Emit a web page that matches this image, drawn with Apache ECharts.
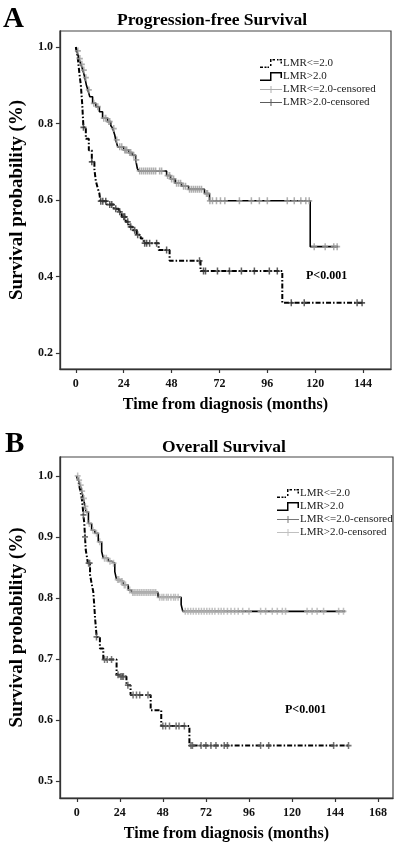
<!DOCTYPE html>
<html>
<head>
<meta charset="utf-8">
<script src="https://cdn.jsdelivr.net/npm/echarts@6/dist/echarts.min.js"></script>
<style>
html,body{margin:0;padding:0;background:#fff;}
#c{width:398px;height:847px;}
</style>
</head>
<body>
<div id="c"></div>
<script>
// ---------- Panel A: Progression-free survival ----------
const pfsXTicks = [0, 24, 48, 72, 96, 120, 144];
const pfsYTicks = [0.2, 0.4, 0.6, 0.8, 1.0];

const pfsLowTime = [0, 1, 1.8, 2.5, 3.2, 3.8, 5, 6.5, 8, 9.3, 10, 11, 11.8, 12.3, 15.5, 19, 21.5, 23, 25, 26.5, 28.5, 30.5, 32.5, 34, 41.5, 47, 62.5, 103.5, 144];
const pfsLowSurv = [1.0, 0.97, 0.93, 0.90, 0.85, 0.79, 0.76, 0.73, 0.70, 0.68, 0.65, 0.63, 0.617, 0.597, 0.588, 0.577, 0.569, 0.556, 0.543, 0.530, 0.521, 0.509, 0.499, 0.487, 0.469, 0.441, 0.414, 0.331, 0.331];

const pfsHighTime = [0, 0.5, 1.5, 2.5, 3.5, 4.5, 5.3, 6, 7, 8.4, 10, 11.8, 13.4, 15.9, 17.5, 18.5, 19.5, 20, 21, 24, 26.5, 28.3, 30, 30.8, 31.5, 45.5, 47.5, 49.8, 53, 56.5, 64.5, 67, 117.5, 131.5];
const pfsHighSurv = [1.0, 0.99, 0.97, 0.955, 0.94, 0.92, 0.90, 0.888, 0.87, 0.853, 0.844, 0.831, 0.814, 0.805, 0.795, 0.787, 0.77, 0.757, 0.739, 0.731, 0.724, 0.717, 0.705, 0.683, 0.676, 0.664, 0.655, 0.644, 0.636, 0.628, 0.617, 0.598, 0.478, 0.478];

const pfsLowCensTime = [3.8, 8, 12.5, 13.5, 15, 17, 18, 20, 22, 24, 24.5, 26, 27.5, 29.5, 31, 34.5, 35.5, 37, 40.5, 45.5, 62, 64, 65, 71, 77, 83, 89.5, 97, 101, 108, 114.5, 141, 143.5];
const pfsLowCensSurv = [0.79, 0.70, 0.597, 0.597, 0.597, 0.588, 0.588, 0.577, 0.569, 0.556, 0.556, 0.543, 0.530, 0.521, 0.509, 0.487, 0.487, 0.487, 0.487, 0.469, 0.441, 0.414, 0.414, 0.414, 0.414, 0.414, 0.414, 0.414, 0.414, 0.331, 0.331, 0.331, 0.331];

const pfsHighCensTime = [1, 2, 3, 4, 5, 6.5, 9, 11, 14, 15, 16.5, 17, 19, 20.5, 22, 23, 24.5, 25, 25.5, 27, 27.5, 29, 30.3, 32, 33, 34, 35, 36, 37, 38, 39, 40, 42, 43, 46, 47, 48, 49, 50.5, 51.5, 52.5, 54, 55, 57, 58, 59, 60, 61, 62, 63, 65.5, 66, 67.2, 68.5, 70.5, 72.5, 74.7, 82, 88, 92, 96, 106, 109.5, 112.8, 115.3, 117, 119.5, 125, 129.3, 131];
const pfsHighCensSurv = [0.99, 0.97, 0.955, 0.94, 0.92, 0.888, 0.853, 0.844, 0.814, 0.814, 0.805, 0.805, 0.787, 0.757, 0.739, 0.739, 0.731, 0.731, 0.731, 0.724, 0.724, 0.717, 0.705, 0.676, 0.676, 0.676, 0.676, 0.676, 0.676, 0.676, 0.676, 0.676, 0.676, 0.676, 0.664, 0.664, 0.655, 0.655, 0.644, 0.644, 0.644, 0.636, 0.636, 0.628, 0.628, 0.628, 0.628, 0.628, 0.628, 0.628, 0.617, 0.617, 0.598, 0.598, 0.598, 0.598, 0.598, 0.598, 0.598, 0.598, 0.598, 0.598, 0.598, 0.598, 0.598, 0.598, 0.478, 0.478, 0.478, 0.478];

// ---------- Panel B: Overall survival ----------
const osXTicks = [0, 24, 48, 72, 96, 120, 144, 168];
const osYTicks = [0.5, 0.6, 0.7, 0.8, 0.9, 1.0];

const osLowTime = [0, 1, 2, 2.8, 3.3, 3.7, 4.2, 4.6, 5, 5.5, 6.2, 7.4, 8.2, 9.2, 9.7, 10.2, 11.1, 12.9, 14.8, 22.2, 24, 27.7, 30, 41.2, 47.1, 62.8, 151.5];
const osLowSurv = [1.0, 0.99, 0.975, 0.963, 0.95, 0.936, 0.922, 0.90, 0.879, 0.870, 0.857, 0.838, 0.825, 0.810, 0.79, 0.767, 0.736, 0.717, 0.699, 0.674, 0.671, 0.657, 0.641, 0.616, 0.590, 0.558, 0.558];

const osHighTime = [0, 1, 1.8, 2.8, 3.7, 4.6, 5.2, 6.5, 8.3, 10.1, 12, 13.9, 14.8, 17.6, 19.4, 21.2, 22.2, 24, 25.9, 28.7, 30.5, 45.3, 58.2, 59.1, 149.7];
const osHighSurv = [1.0, 0.993, 0.985, 0.975, 0.963, 0.95, 0.941, 0.922, 0.911, 0.906, 0.892, 0.876, 0.865, 0.860, 0.857, 0.843, 0.830, 0.827, 0.821, 0.813, 0.809, 0.801, 0.789, 0.778, 0.778];

const osLowCensTime = [3.7, 4.6, 6.6, 7.2, 11, 15.5, 17, 19.4, 23, 24.6, 25.3, 26, 28.5, 31.4, 33.3, 35.1, 39.7, 48, 49.5, 51.7, 55.4, 57, 60, 63.7, 64.5, 69.3, 72, 74.8, 77.6, 82.2, 84, 102.5, 107, 143.2, 151.5];
const osLowCensSurv = [0.936, 0.90, 0.857, 0.857, 0.736, 0.699, 0.699, 0.699, 0.674, 0.671, 0.671, 0.671, 0.657, 0.641, 0.641, 0.641, 0.641, 0.590, 0.590, 0.590, 0.590, 0.590, 0.590, 0.558, 0.558, 0.558, 0.558, 0.558, 0.558, 0.558, 0.558, 0.558, 0.558, 0.558, 0.558];

const osHighCensTime = [0.5, 1.3, 2.2, 3, 4, 4.8, 5.6, 7, 9, 11, 12.8, 15.5, 16.5, 18.5, 20.5, 22.8, 23.4, 24.8, 25.3, 26.5, 27.2, 29.5, 31.2, 32, 33, 34, 35, 36, 37, 38, 39, 40, 41, 42, 43, 44, 46.2, 47.5, 48.5, 50, 51, 52.5, 54, 55, 56.5, 60.5, 62, 63.5, 65, 66.5, 68, 69.5, 71, 72.5, 74, 75.5, 77, 79, 80.5, 82, 84, 86, 88, 90, 92.5, 96, 102.5, 105.3, 109, 111.8, 114.6, 116.4, 128.4, 131.2, 134, 137.6, 146, 148.7];
const osHighCensSurv = [1.0, 0.993, 0.985, 0.975, 0.963, 0.95, 0.941, 0.922, 0.911, 0.906, 0.892, 0.865, 0.865, 0.860, 0.857, 0.830, 0.830, 0.827, 0.827, 0.821, 0.821, 0.813, 0.809, 0.809, 0.809, 0.809, 0.809, 0.809, 0.809, 0.809, 0.809, 0.809, 0.809, 0.809, 0.809, 0.809, 0.801, 0.801, 0.801, 0.801, 0.801, 0.801, 0.801, 0.801, 0.801, 0.778, 0.778, 0.778, 0.778, 0.778, 0.778, 0.778, 0.778, 0.778, 0.778, 0.778, 0.778, 0.778, 0.778, 0.778, 0.778, 0.778, 0.778, 0.778, 0.778, 0.778, 0.778, 0.778, 0.778, 0.778, 0.778, 0.778, 0.778, 0.778, 0.778, 0.778, 0.778, 0.778];

const seriesNames = ['LMR<=2.0', 'LMR>2.0', 'LMR<=2.0-censored', 'LMR>2.0-censored'];

// ---------- build ----------
const zip = (a, b) => a.map((v, i) => [v, b[i]]);
const FONT = 'Liberation Serif';
const plusSym = 'path://M3,0h2v8h-2zM0,3h8v2h-8z';
const dashIcon = 'path://M0,16h6v3h-6zM9,16h4v3h-4zM15,16h3v3h-3zM20,11h3v4h-3zM20,1h3v6h-3zM25,1h5v3h-5zM34,1h3v3h-3zM39,1h5v3h-5zM41,6h3v4h-3z';
const solidIcon = 'path://M0,16h22v3h-22zM20,1h3v18h-3zM20,1h24v3h-24zM41,1h3v12h-3z';
const plusIcon = 'path://M21,3h2v14h-2zM0,9h44v2h-44z';

function axisX(gridIndex, min, max, ticks) {
  return {
    type: 'value', gridIndex, min, max,
    name: 'Time from diagnosis (months)', nameLocation: 'middle', nameGap: 28,
    nameTextStyle: {fontFamily: FONT, fontWeight: 'bold', fontSize: 16, color: '#000'},
    axisLine: {show: true, onZero: false, lineStyle: {color: '#333', width: 1.3}},
    axisTick: {show: true, length: 4, lineStyle: {color: '#333', width: 1.2}, customValues: ticks},
    axisLabel: {fontFamily: FONT, fontWeight: 'bold', fontSize: 12, color: '#111', margin: 9, customValues: ticks,
                formatter: v => String(v)},
    splitLine: {show: false}
  };
}
function axisY(gridIndex, min, max, ticks) {
  return {
    type: 'value', gridIndex, min, max,
    name: 'Survival probability (%)', nameLocation: 'middle', nameGap: 24,
    nameTextStyle: {fontFamily: FONT, fontWeight: 'bold', fontSize: 19, color: '#000'},
    axisLine: {show: true, onZero: false, lineStyle: {color: '#333', width: 1.3}},
    axisTick: {show: true, length: 4, lineStyle: {color: '#333', width: 1.2}, customValues: ticks},
    axisLabel: {fontFamily: FONT, fontWeight: 'bold', fontSize: 12, color: '#111', margin: 7, customValues: ticks,
                formatter: v => v.toFixed(1)},
    splitLine: {show: false}
  };
}
function stepLine(name, idx, data, dashed) {
  return {
    name, type: 'line', step: 'end', xAxisIndex: idx, yAxisIndex: idx,
    data, showSymbol: false, symbol: 'none', silent: true, z: 2,
    itemStyle: {color: '#000'},
    lineStyle: {color: '#000', width: dashed ? 2 : 1.6, type: dashed ? [5, 2, 1.5, 2] : 'solid'}
  };
}
function censor(name, idx, data, color) {
  return {
    name, type: 'scatter', xAxisIndex: idx, yAxisIndex: idx, data,
    symbol: plusSym, symbolSize: [6, 7], silent: true, z: 3,
    itemStyle: {color}
  };
}
function legend(left, top, colors) {
  return {
    orient: 'vertical', left, top, itemWidth: 22, itemHeight: 10, itemGap: 2,
    selectedMode: false,
    textStyle: {fontFamily: FONT, fontSize: 11, color: '#222', padding: [0, 0, 0, -4]},
    data: [
      {name: seriesNames[0], icon: dashIcon, itemStyle: {color: '#000'}},
      {name: seriesNames[1], icon: solidIcon, itemStyle: {color: '#000'}},
      {name: seriesNames[2], icon: plusIcon, itemStyle: {color: colors[0]}},
      {name: seriesNames[3], icon: plusIcon, itemStyle: {color: colors[1]}}
    ]
  };
}

const chart = echarts.init(document.getElementById('c'), null, {renderer: 'canvas'});
chart.setOption({
  animation: false,
  backgroundColor: '#fff',
  title: [
    {text: 'A', left: 3, top: 5, padding: 0, textStyle: {fontFamily: FONT, fontWeight: 'bold', fontSize: 29, color: '#000'}},
    {text: 'Progression-free Survival', left: 212, top: 11, padding: 0, textAlign: 'center', textStyle: {fontFamily: FONT, fontWeight: 'bold', fontSize: 17.5, color: '#000'}},
    {text: 'B', left: 5, top: 430, padding: 0, textStyle: {fontFamily: FONT, fontWeight: 'bold', fontSize: 29, color: '#000'}},
    {text: 'Overall Survival', left: 224, top: 438, padding: 0, textAlign: 'center', textStyle: {fontFamily: FONT, fontWeight: 'bold', fontSize: 17.5, color: '#000'}}
  ],
  grid: [
    {left: 57, top: 31, width: 334, height: 338, show: true, borderColor: '#444', borderWidth: 1.2, containLabel: false},
    {left: 58, top: 457, width: 335, height: 341, show: true, borderColor: '#444', borderWidth: 1.2, containLabel: false}
  ],
  xAxis: [axisX(0, -8, 158, pfsXTicks), axisX(1, -9.4, 176.3, osXTicks)],
  yAxis: [axisY(0, 0.158, 1.042, pfsYTicks), axisY(1, 0.472, 1.031, osYTicks)],
  legend: [legend(255, 53, ['#9a9a9a', '#333']), legend(272, 483, ['#555', '#b0b0b0'])],
  graphic: [
    {type: 'text', left: 306, top: 270, style: {text: 'P<0.001', fontFamily: FONT, fontWeight: 'bold', fontSize: 12, fill: '#000'}},
    {type: 'text', left: 285, top: 704, style: {text: 'P<0.001', fontFamily: FONT, fontWeight: 'bold', fontSize: 12, fill: '#000'}}
  ],
  series: [
    stepLine(seriesNames[0], 0, zip(pfsLowTime, pfsLowSurv), true),
    stepLine(seriesNames[1], 0, zip(pfsHighTime, pfsHighSurv), false),
    censor(seriesNames[2], 0, zip(pfsLowCensTime, pfsLowCensSurv), '#333'),
    censor(seriesNames[3], 0, zip(pfsHighCensTime, pfsHighCensSurv), '#9a9a9a'),
    stepLine(seriesNames[0], 1, zip(osLowTime, osLowSurv), true),
    stepLine(seriesNames[1], 1, zip(osHighTime, osHighSurv), false),
    censor(seriesNames[2], 1, zip(osLowCensTime, osLowCensSurv), '#555'),
    censor(seriesNames[3], 1, zip(osHighCensTime, osHighCensSurv), '#b0b0b0')
  ]
});
</script>
</body>
</html>
